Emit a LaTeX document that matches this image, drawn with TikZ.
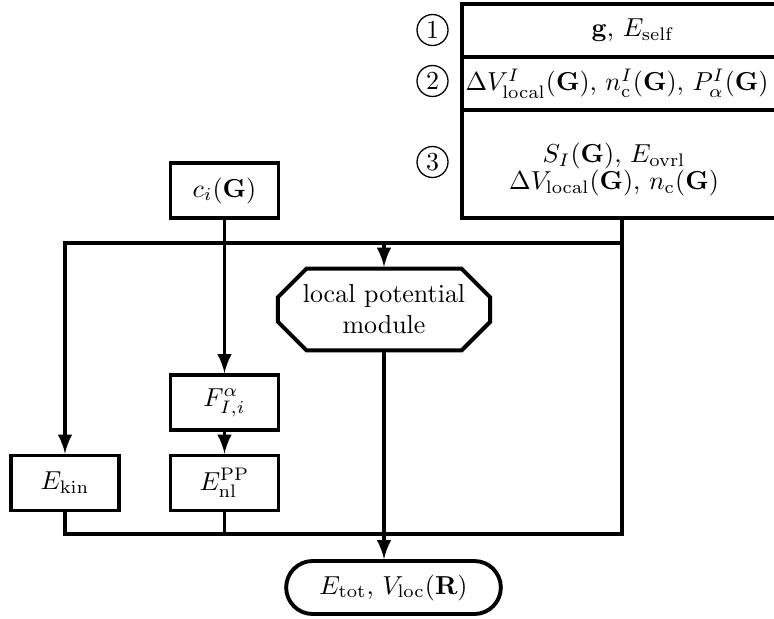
\documentclass[tikz,border=0pt]{standalone}
\usetikzlibrary{shapes}
\usetikzlibrary{shapes.misc}
\usetikzlibrary{arrows}
\usetikzlibrary{positioning}
\usetikzlibrary{calc}
\newlength{\px}
\setlength{\px}{0.385pt}

\begin{document}
\begin{tikzpicture}[x=0.385pt,y=-0.385pt]
\tikzstyle{block} = [rectangle, draw, line width=1.5pt, minimum width=108\px,
minimum height=55\px]
\tikzstyle{module} = [chamfered rectangle, chamfered rectangle xsep=21\px,
draw, line width=1.5pt, inner xsep=1.5pt, minimum width=187\px, minimum height=81\px, align=center]
\tikzstyle{terminal} = [rounded rectangle, draw, line width=1.5pt,
minimum width=232\px, minimum height=53\px]
\tikzstyle{row} = [rectangle, draw, line width=1.5pt, minimum width=400\px, inner sep=0pt]
\tikzstyle{marker} = [circle, draw, line width=0.5pt, minimum size=31\px, inner sep=0pt]
\tikzstyle{line} = [line width=1.5pt]
\useasboundingbox (0,0) rectangle (774,618);
% input rows
\node [row, minimum height=53\px] (self) at (662,30.5) {\hspace*{-58\px}$\mathbf{g}$, $E_{\rm self}$};
\node [row, minimum height=53\px] (local) at (662,83.5)
{$\Delta V^I_{\rm local}(\mathbf{G})$, $n^I_{\rm c}(\mathbf{G})$, $P^I_{\alpha}(\mathbf{G})$\hspace*{90\px}};
\node [row, minimum height=108\px] (ovrl) at (662,164)
{\raisebox{-12\px}[0pt][0pt]{\begin{tabular}{@{}c@{}}$S_I(\mathbf{G})$, $E_{\rm ovrl}$\\[-1.5pt]
$\Delta V_{\rm local}(\mathbf{G})$, $n_{\rm c}(\mathbf{G})$\end{tabular}}\hspace*{96\px}};
\node [marker] (one) at (432.5,30) {1};
\node [marker] (two) at (432.5,81) {2};
\node [marker] (three) at (432.5,162) {3};
% flow
\node [block] (coef) at (224.5,190.5) {$c_i(\mathbf{G})$};
\node [module] (lpm) at (384,309.5) {local potential\\module};
\node [block] (force) at (224.5,402.5) {$F^{\alpha}_{I,i}$};
\node [block] (enl) at (224.5,483) {$E^{\rm PP}_{\rm nl}$};
\node [block] (ekin) at (65,483) {$E_{\rm kin}$};
\node [terminal] (etot) at (393.5,587.5) {$E_{\rm tot}$, $V_{\rm loc}(\mathbf{R})$};
\coordinate (feed) at ([xshift=-40\px]ovrl.south);
\coordinate (top) at (65,243);
\coordinate (bottom) at (65,534);
\draw[->,>=latex,line] (feed) |- (top) -- (ekin.north);
\draw[->,>=latex,line] (lpm.north |- top) -- (lpm.north);
\draw[->,>=latex,line] (coef) -- (force);
\draw[->,>=latex,line] (force) -- (enl);
\draw[line] (feed) |- (bottom) -- (ekin.south);
\draw[line] (enl.south) -- (enl.south |- bottom);
\draw[->,>=latex,line] (lpm.south) -- (lpm.south |- etot.north);
\end{tikzpicture}
\end{document}
